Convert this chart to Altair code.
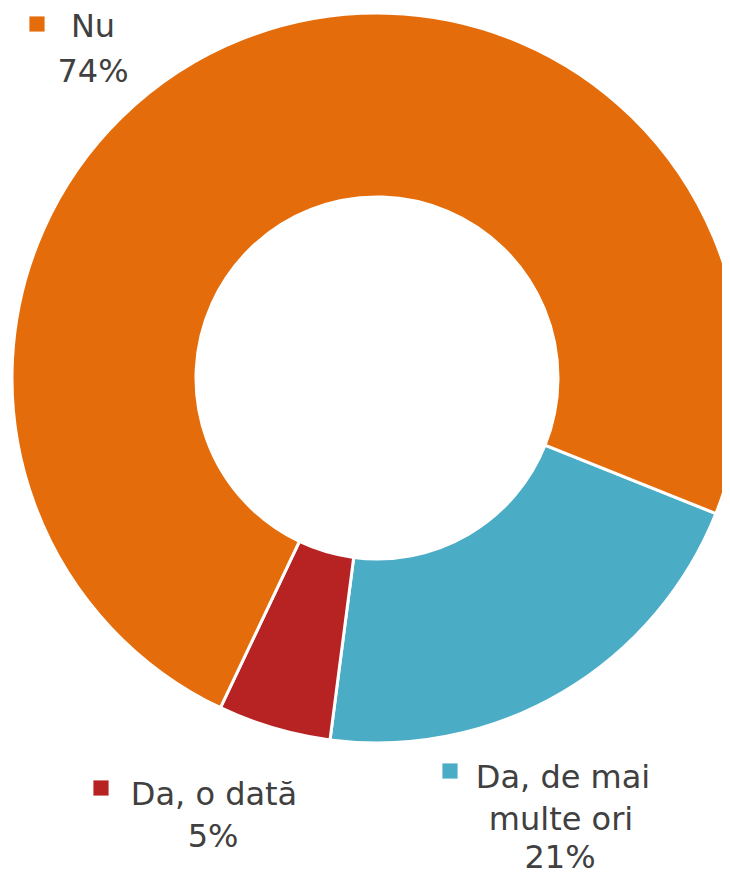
import altair as alt
import pandas as pd
import math

categories = ["Da, de mai multe ori", "Da, o dată", "Nu"]
values = [21, 5, 74]
colors = ["#4BACC6", "#B72222", "#E46C0A"]

label_lines = ["Nu", "74%", "Da, o dată", "5%", "Da, de mai", "multe ori", "21%"]

df = pd.DataFrame({"cat": categories, "val": values, "ord": [0, 1, 2]})
lab = pd.DataFrame({"line": label_lines})

start = math.radians(111.8)

arcs = alt.Chart(df).mark_arc(
    outerRadius=365, innerRadius=181, stroke="white", strokeWidth=3
).encode(
    theta=alt.Theta("val:Q", stack=True, scale=alt.Scale(range=[start, start + 2 * math.pi])),
    color=alt.Color("cat:N", scale=alt.Scale(domain=categories, range=colors), legend=None),
    order=alt.Order("ord:Q"),
    x=alt.value(369),
    y=alt.value(370),
)

FONT = "DejaVu Sans"
FS = 32
TC = "#404040"

def line(text, x, y, align="center"):
    return alt.Chart(lab).transform_filter(alt.datum.line == text).mark_text(
        font=FONT, fontSize=FS, color=TC, align=align, baseline="alphabetic"
    ).encode(text="line:N", x=alt.value(x), y=alt.value(y))

def square(cat, x, y):
    return alt.Chart(df).transform_filter(alt.datum.cat == cat).mark_square(
        size=230, opacity=1, filled=True
    ).encode(
        color=alt.Color("cat:N", scale=alt.Scale(domain=categories, range=colors), legend=None),
        x=alt.value(x), y=alt.value(y),
    )

layers = [
    arcs,
    square("Nu", 29, 16),
    line("Nu", 85, 29),
    line("74%", 85, 74),
    square("Da, o dată", 93, 780),
    line("Da, o dată", 206, 797),
    line("5%", 205, 839),
    square("Da, de mai multe ori", 442, 763),
    line("Da, de mai", 555, 780),
    line("multe ori", 553, 822),
    line("21%", 552, 860),
]

chart = alt.layer(*layers).properties(
    width=714, height=870, padding=0, autosize=alt.AutoSizeParams(type="none")
).configure_view(stroke=None)

chart.save("out.html", embed_options={"renderer": "svg", "actions": False})
